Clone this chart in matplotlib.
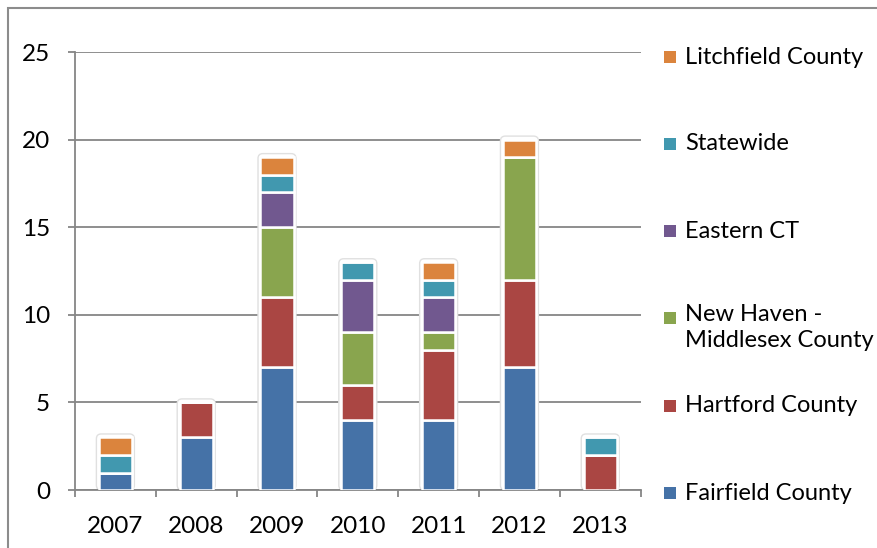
import numpy as np
import matplotlib.pyplot as plt
from matplotlib.patches import Rectangle, FancyBboxPatch

plt.rcParams['font.family'] = ['Lato', 'DejaVu Sans']

# Data
years = ['2007', '2008', '2009', '2010', '2011', '2012', '2013']
fairfield = [1, 3, 7, 4, 4, 7, 0]
hartford = [0, 2, 4, 2, 4, 5, 2]
new_haven = [0, 0, 4, 3, 1, 7, 0]
eastern = [0, 0, 2, 3, 2, 0, 0]
statewide = [1, 0, 1, 1, 1, 0, 1]
litchfield = [1, 0, 1, 0, 1, 1, 0]

series = [
    ('Fairfield County', fairfield, '#4572A7'),
    ('Hartford County', hartford, '#AA4643'),
    ('New Haven -\nMiddlesex County', new_haven, '#89A54E'),
    ('Eastern CT', eastern, '#71588F'),
    ('Statewide', statewide, '#4198AF'),
    ('Litchfield County', litchfield, '#DB843D'),
]

fs = 17.5
legend_fs = 17

fig = plt.figure(figsize=(8.77, 5.48), dpi=100)
ax = fig.add_axes([0.0855, 0.1058, 0.645, 0.7993])

x = np.arange(len(years))
width = 0.41
bottom = np.zeros(len(years))
for name, vals, color in series:
    vals = np.array(vals, dtype=float)
    ax.bar(x, vals, width, bottom=bottom, color=color, edgecolor='white',
           linewidth=1.8, zorder=3)
    bottom += vals

# faint rounded outline around each stack
for xi, total in zip(x, bottom):
    box = FancyBboxPatch((xi - width / 2 - 0.03, 0), width + 0.06, total + 0.2,
                         boxstyle='round,pad=0,rounding_size=0.06',
                         mutation_aspect=4.6, facecolor='white',
                         edgecolor='#e0e0e0', linewidth=1.0, zorder=2)
    ax.add_patch(box)

ax.set_xlim(-0.5, len(years) - 0.5)
ax.set_ylim(0, 25)
ax.set_yticks([0, 5, 10, 15, 20, 25])
ax.set_xticks(x)
ax.set_xticklabels(years)
ax.set_xticks(np.arange(-0.5, len(years), 1), minor=True)
ax.tick_params(axis='x', which='major', length=0, pad=19, labelsize=fs)
ax.tick_params(axis='x', which='minor', length=5, width=1.3, color='#868686')
ax.tick_params(axis='y', length=5, width=1.3, color='#868686', pad=13, labelsize=fs)
ax.yaxis.grid(True, color='#868686', linewidth=1.3, zorder=0)
ax.set_axisbelow(True)
for side in ['top', 'right']:
    ax.spines[side].set_visible(False)
for side in ['left', 'bottom']:
    ax.spines[side].set_color('#868686')
    ax.spines[side].set_linewidth(1.3)

# legend drawn by hand, top entry = last series
legend_y = [57, 144, 231, 318, 406, 493]
for (name, vals, color), py in zip(series[::-1], legend_y):
    fy = 1 - py / 548
    fig.patches.append(Rectangle((664 / 877, fy - 6 / 548), 12 / 877, 12 / 548,
                                 transform=fig.transFigure, facecolor=color,
                                 edgecolor='none'))
    if '\n' in name:
        fig.text(685 / 877, fy + 14 / 548, name, fontsize=legend_fs, va='top',
                 ha='left', linespacing=1.3)
    else:
        fig.text(685 / 877, fy, name, fontsize=legend_fs, va='center', ha='left')

# outer chart border (cropped at right and bottom)
fig.patches.append(Rectangle((8 / 877, -0.1), 1.2, 1.085, transform=fig.transFigure,
                             facecolor='none', edgecolor='#8c8c8c', linewidth=1.5))

fig.savefig('out.png', dpi=100)
